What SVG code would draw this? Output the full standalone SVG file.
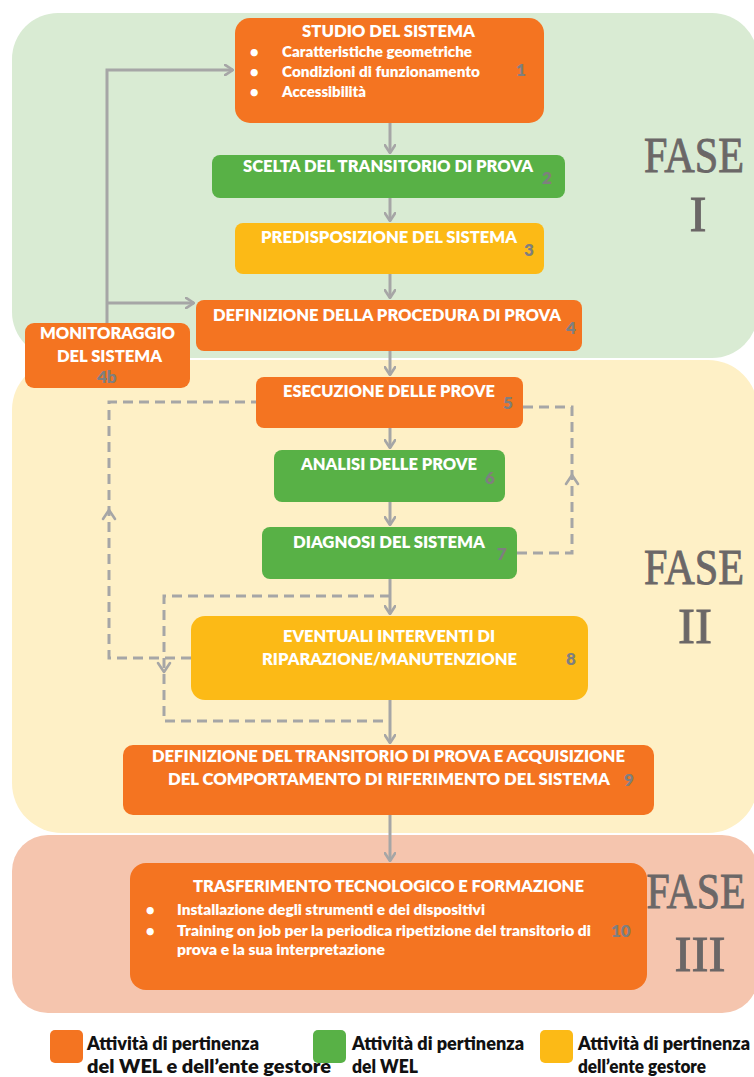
<svg xmlns="http://www.w3.org/2000/svg" width="754" height="1077" viewBox="0 0 754 1077">
  <defs>
    <marker id="chev" viewBox="0 0 10 12" refX="9" refY="6" markerWidth="10" markerHeight="12" markerUnits="userSpaceOnUse" orient="auto">
      <path d="M1,0.8 L9,6 L1,11.2" fill="none" stroke="#A6A6A6" stroke-width="2.6" stroke-linecap="round" stroke-linejoin="round"/>
    </marker>
    <style>
      .t { font-family: "Lato", "Open Sans", "Liberation Sans", sans-serif; font-weight: 800; fill: #FFFFFF; }
      .h { font-size: 17px; }
      .s { font-size: 14.5px; }
      .n { font-family: "Lato", "Open Sans", "Liberation Sans", sans-serif; font-weight: 800; font-size: 17px; fill: #7F7F7F; }
      .orange { fill: #F47421; }
      .green { fill: #58B146; }
      .yellow { fill: #FCBA16; }
      .fase { font-family: "Liberation Serif", "DejaVu Serif", serif; font-size: 51px; fill: #6B6767; stroke: #6B6767; stroke-width: 0.9; text-anchor: middle; }
      .solid { fill: none; stroke: #A6A6A6; stroke-width: 3; }
      .dash { fill: none; stroke: #A6A6A6; stroke-width: 3; stroke-dasharray: 10 6; }
      .mid { fill: none; stroke: #A6A6A6; stroke-width: 2.6; stroke-linecap: round; stroke-linejoin: round; }
      .leg { font-family: "Lato", "Open Sans", "Liberation Sans", sans-serif; font-weight: 800; font-size: 19px; fill: #111111; }
    </style>
  </defs>

  <rect width="754" height="1077" fill="#FFFFFF"/>

  <!-- phase panels -->
  <g id="phases">
    <rect id="fase1-bg" x="12" y="13" width="746" height="345" rx="46" fill="#D9EBD3"/>
    <rect id="fase2-bg" x="12" y="360" width="746" height="473" rx="50" fill="#FEF0C6"/>
    <rect id="fase3-bg" x="12" y="835" width="746" height="178" rx="36" fill="#F5C5AE"/>
    <text class="fase" x="694" y="172" textLength="100" lengthAdjust="spacingAndGlyphs">FASE</text>
    <text class="fase" x="698" y="231">I</text>
    <text class="fase" x="694" y="584" textLength="100" lengthAdjust="spacingAndGlyphs">FASE</text>
    <text class="fase" x="695" y="643">II</text>
    <text class="fase" x="696" y="908" textLength="99" lengthAdjust="spacingAndGlyphs">FASE</text>
    <text class="fase" x="700" y="971">III</text>
  </g>

  <!-- connectors -->
  <g id="connectors">
    <path class="solid" d="M107,323 V70 H233" marker-end="url(#chev)"/>
    <path class="solid" d="M107,303 H194" marker-end="url(#chev)"/>
    <path class="solid" d="M390,123 V153" marker-end="url(#chev)"/>
    <path class="solid" d="M390,198 V221" marker-end="url(#chev)"/>
    <path class="solid" d="M390,274 V298" marker-end="url(#chev)"/>
    <path class="solid" d="M390,351 V375" marker-end="url(#chev)"/>
    <path class="solid" d="M390,428 V448" marker-end="url(#chev)"/>
    <path class="solid" d="M390,502 V525" marker-end="url(#chev)"/>
    <path class="solid" d="M390,579 V614" marker-end="url(#chev)"/>
    <path class="solid" d="M390,700 V743" marker-end="url(#chev)"/>
    <path class="solid" d="M390,815 V861" marker-end="url(#chev)"/>

    <path class="dash" d="M191,658 H109 V402 H256"/>
    <path class="mid" d="M103,519 L109,510 L115,519"/>
    <path class="dash" d="M517,553 H572 V407 H523"/>
    <path class="mid" d="M566,484 L572,475 L578,484"/>
    <path class="dash" d="M390,596 H164 V721 H390"/>
    <path class="mid" d="M158,663 L164,672 L170,663"/>
  </g>

  <!-- nodes -->
  <g id="node1">
    <rect class="orange" x="235" y="18" width="309" height="105" rx="15"/>
    <text class="t h" x="302" y="37" textLength="173" lengthAdjust="spacingAndGlyphs">STUDIO DEL SISTEMA</text>
    <text class="t s" x="250" y="57">•</text>
    <text class="t s" x="250" y="77">•</text>
    <text class="t s" x="250" y="97">•</text>
    <text class="t s" x="282" y="57" textLength="190" lengthAdjust="spacingAndGlyphs">Caratteristiche geometriche</text>
    <text class="t s" x="282" y="77" textLength="198" lengthAdjust="spacingAndGlyphs">Condizioni di funzionamento</text>
    <text class="t s" x="282" y="97" textLength="84" lengthAdjust="spacingAndGlyphs">Accessibilità</text>
    <text class="n" x="516" y="76">1</text>
  </g>

  <g id="node2">
    <rect class="green" x="212" y="155" width="353" height="43" rx="8"/>
    <text class="t h" x="243" y="172" textLength="290" lengthAdjust="spacingAndGlyphs">SCELTA DEL TRANSITORIO DI PROVA</text>
    <text class="n" x="542" y="184">2</text>
  </g>

  <g id="node3">
    <rect class="yellow" x="235" y="223" width="309" height="51" rx="8"/>
    <text class="t h" x="261" y="243" textLength="256" lengthAdjust="spacingAndGlyphs">PREDISPOSIZIONE DEL SISTEMA</text>
    <text class="n" x="524" y="256">3</text>
  </g>

  <g id="node4">
    <rect class="orange" x="196" y="300" width="386" height="51" rx="8"/>
    <text class="t h" x="213" y="321" textLength="348" lengthAdjust="spacingAndGlyphs">DEFINIZIONE DELLA PROCEDURA DI PROVA</text>
    <text class="n" x="566" y="334">4</text>
  </g>

  <g id="node4b">
    <rect class="orange" x="25" y="323" width="165" height="65" rx="9"/>
    <text class="t h" x="40" y="339" textLength="135" lengthAdjust="spacingAndGlyphs">MONITORAGGIO</text>
    <text class="t h" x="57" y="362" textLength="105" lengthAdjust="spacingAndGlyphs">DEL SISTEMA</text>
    <text class="n" x="97" y="383">4b</text>
  </g>

  <g id="node5">
    <rect class="orange" x="256" y="377" width="267" height="51" rx="8"/>
    <text class="t h" x="283" y="397" textLength="212" lengthAdjust="spacingAndGlyphs">ESECUZIONE DELLE PROVE</text>
    <text class="n" x="503" y="409">5</text>
  </g>

  <g id="node6">
    <rect class="green" x="274" y="450" width="231" height="52" rx="8"/>
    <text class="t h" x="301" y="470" textLength="176" lengthAdjust="spacingAndGlyphs">ANALISI DELLE PROVE</text>
    <text class="n" x="485" y="484">6</text>
  </g>

  <g id="node7">
    <rect class="green" x="262" y="527" width="255" height="52" rx="8"/>
    <text class="t h" x="293" y="548" textLength="192" lengthAdjust="spacingAndGlyphs">DIAGNOSI DEL SISTEMA</text>
    <text class="n" x="497" y="560">7</text>
  </g>

  <g id="node8">
    <rect class="yellow" x="191" y="616" width="397" height="84" rx="14"/>
    <text class="t h" x="283" y="642" textLength="212" lengthAdjust="spacingAndGlyphs">EVENTUALI INTERVENTI DI</text>
    <text class="t h" x="262" y="665" textLength="255" lengthAdjust="spacingAndGlyphs">RIPARAZIONE/MANUTENZIONE</text>
    <text class="n" x="566" y="665">8</text>
  </g>

  <g id="node9">
    <rect class="orange" x="123" y="745" width="531" height="70" rx="10"/>
    <text class="t h" x="152" y="762" textLength="473" lengthAdjust="spacingAndGlyphs">DEFINIZIONE DEL TRANSITORIO DI PROVA E ACQUISIZIONE</text>
    <text class="t h" x="168" y="785" textLength="442" lengthAdjust="spacingAndGlyphs">DEL COMPORTAMENTO DI RIFERIMENTO DEL SISTEMA</text>
    <text class="n" x="624" y="786">9</text>
  </g>

  <g id="node10">
    <rect class="orange" x="130" y="863" width="517" height="127" rx="16"/>
    <text class="t h" x="193" y="892" textLength="391" lengthAdjust="spacingAndGlyphs">TRASFERIMENTO TECNOLOGICO E FORMAZIONE</text>
    <text class="t s" x="146" y="915">•</text>
    <text class="t s" x="146" y="936">•</text>
    <text class="t s" x="177" y="915" textLength="308" lengthAdjust="spacingAndGlyphs">Installazione degli strumenti e dei dispositivi</text>
    <text class="t s" x="177" y="936" textLength="414" lengthAdjust="spacingAndGlyphs">Training on job per la periodica ripetizione del transitorio di</text>
    <text class="t s" x="177" y="955" textLength="208" lengthAdjust="spacingAndGlyphs">prova e la sua interpretazione</text>
    <text class="n" x="611" y="937">10</text>
  </g>

  <!-- legend -->
  <g id="legend">
    <rect class="orange" x="50" y="1030" width="33" height="33" rx="5"/>
    <text class="leg" x="87" y="1050" textLength="172" lengthAdjust="spacingAndGlyphs">Attività di pertinenza</text>
    <text class="leg" x="87" y="1073" textLength="244" lengthAdjust="spacingAndGlyphs">del WEL e dell’ente gestore</text>
    <rect class="green" x="313" y="1030" width="33" height="33" rx="5"/>
    <text class="leg" x="352" y="1050" textLength="172" lengthAdjust="spacingAndGlyphs">Attività di pertinenza</text>
    <text class="leg" x="352" y="1073" textLength="66" lengthAdjust="spacingAndGlyphs">del WEL</text>
    <rect class="yellow" x="540" y="1030" width="33" height="33" rx="5"/>
    <text class="leg" x="578" y="1050" textLength="172" lengthAdjust="spacingAndGlyphs">Attività di pertinenza</text>
    <text class="leg" x="578" y="1073" textLength="128" lengthAdjust="spacingAndGlyphs">dell’ente gestore</text>
  </g>
</svg>
